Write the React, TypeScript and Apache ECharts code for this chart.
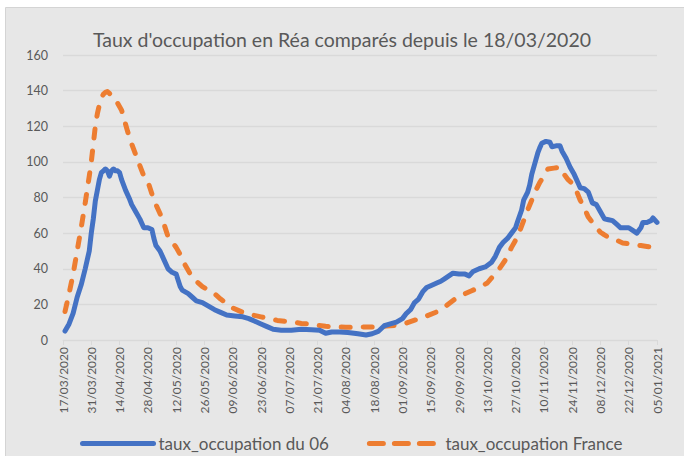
import React, { useEffect, useRef } from "react";
import * as echarts from "echarts";

// x positions are days elapsed since 17/03/2020
const START_DATE = Date.UTC(2020, 2, 17);
const X_MAX_DAYS = 294;
const TICK_DAYS = 14;
const Y_MAX = 160;
const Y_STEP = 20;

const titleText = "Taux d'occupation en Réa comparés depuis le 18/03/2020";
const seriesNames = ["taux_occupation du 06", "taux_occupation France"];

const days06 = [
  1, 3, 5, 7, 9, 11, 13, 14, 15, 16, 17, 18, 19, 20, 21, 22, 23, 24, 25, 26, 27, 28, 29, 31, 33, 34, 36, 38, 40, 42,
  44, 45, 46, 48, 50, 52, 54, 56, 58, 59, 62, 64, 66, 69, 72, 75, 78, 81, 85, 89, 92, 95, 98, 101, 104, 108, 113, 118,
  123, 127, 130, 133, 137, 141, 146, 150, 153, 156, 159, 162, 165, 168, 170, 172, 174, 176, 178, 180, 182, 185, 187,
  189, 191, 193, 196, 199, 201, 203, 206, 209, 212, 214, 216, 218, 220, 222, 224, 225, 227, 228, 230, 231, 232, 234,
  235, 236, 237, 239, 241, 242, 244, 246, 247, 249, 251, 253, 255, 256, 258, 260, 262, 264, 266, 268, 270, 272, 274,
  276, 278, 280, 282, 284, 286, 287, 289, 291, 292, 294,
];
const values06 = [
  5, 9, 15, 24, 31, 40, 50, 60, 68, 78, 84, 90, 94, 95, 96, 95, 92, 95, 96, 95, 95, 94, 90, 84, 79, 76, 72, 68, 63, 63,
  62, 57, 53, 50, 45, 40, 38, 37, 30, 28, 26, 24, 22, 21, 19, 17, 15.5, 14, 13.5, 13, 12, 10.5, 9, 7.5, 6, 5.5, 5.5, 6,
  5.7, 5.5, 3.8, 4.5, 4.5, 4.2, 3.5, 2.8, 3.5, 4.8, 8, 9, 10, 12, 15, 17, 21, 23, 27, 29.5, 30.5, 32, 33,
  34.5, 36, 37.5, 37, 37, 36, 38.5, 40, 41, 43.5, 47, 52, 55, 57, 60, 63, 66.5, 73, 78.5, 83, 87, 93, 101,
  105, 108, 110.5, 111.5, 111, 108.5, 109, 109, 106, 102, 97, 93, 88, 85.5, 85, 83, 77, 76, 72, 68, 67.5, 67, 65,
  63, 63, 63, 61.5, 60, 63, 66, 66, 67, 68.5, 66,
];

const daysFrance = [
  1, 3, 5, 7, 9, 11, 13, 14, 15, 16, 17, 18, 19, 20, 21, 22, 23, 25, 27, 29, 30, 32, 34, 36, 38, 40, 42, 44, 46, 48,
  50, 52, 54, 56, 58, 60, 62, 64, 66, 69, 72, 75, 78, 81, 84, 87, 90, 94, 98, 102, 106, 110, 114, 118, 122, 126, 130,
  135, 140, 145, 150, 155, 160, 165, 170, 175, 180, 185, 190, 194, 198, 202, 206, 210, 213, 216, 219, 222, 224, 226,
  228, 230, 232, 234, 236, 238, 240, 243, 246, 248, 250, 252, 254, 256, 258, 260, 262, 264, 266, 268, 271, 274, 277,
  280, 283, 286, 289, 291, 293, 294,
];
const valuesFrance = [
  16, 26, 37, 50, 63, 77, 92, 100, 110, 120, 127, 132, 136, 138, 139, 139.5, 138.5, 135, 133, 129, 125, 117, 110, 104,
  98, 92, 89, 82, 76, 71, 65, 58, 55, 52, 48, 43, 39, 35, 33, 30, 28, 26, 23, 20.5, 18, 16.5, 15, 14, 13, 12, 11, 10.5,
  10, 9.3, 9, 8.2, 7.7, 7.3, 7.2, 7.2, 7.3, 7.3, 7.8, 8.3, 9.5, 11.5, 13.5, 15.8, 19.5, 23, 25.5, 27.5, 29.5, 32, 36,
  40, 45, 52, 56, 61, 67, 73, 78.5, 84, 88.5, 92, 96, 96.5, 97, 93, 90, 88, 84, 78.5, 74, 69, 66, 63, 60.5, 59, 57, 56,
  54.5, 54, 53.5, 53, 52.5, 52.2, 52.5, 53,
];

const pad = (n: number) => (n < 10 ? "0" + n : "" + n);
const dayToLabel = (d: number) => {
  const dt = new Date(START_DATE + d * 86400000);
  return pad(dt.getUTCDate()) + "/" + pad(dt.getUTCMonth() + 1) + "/" + dt.getUTCFullYear();
};

const FONT = "Lato";
const TEXT = "#595959";
const GRID = "#d9d9d9";

export default function App() {
  const ref = useRef<HTMLDivElement>(null);
  useEffect(() => {
    if (!ref.current) return;
    const chart = echarts.init(ref.current, undefined, { renderer: "svg" });
    chart.setOption({
      animation: false,
      backgroundColor: "#ffffff",
      textStyle: { fontFamily: FONT },
      graphic: [
        {
          type: "rect",
          z: -10,
          silent: true,
          shape: { x: 5.5, y: 7.5, width: 690, height: 460 },
          style: { fill: "#e7e7e7", stroke: "#d4d4d4", lineWidth: 1 },
        },
      ],
      title: {
        text: titleText,
        left: "center",
        top: 29,
        padding: [0, 0, 0, 8],
        textStyle: { fontFamily: FONT, fontSize: 19.5, fontWeight: "normal", color: TEXT },
      },
      legend: {
        left: 75,
        top: 430,
        itemWidth: 71,
        itemHeight: 16,
        itemGap: 38,
        itemStyle: { opacity: 0, borderWidth: 0 },
        lineStyle: { width: 5, cap: "round" },
        textStyle: { fontFamily: FONT, fontSize: 17, color: TEXT },
        data: [
          { name: seriesNames[0] },
          { name: seriesNames[1], lineStyle: { type: [14, 11], width: 5, cap: "round" } },
        ],
      },
      grid: { left: 63, right: 27, top: 55, bottom: 116, containLabel: false },
      xAxis: {
        type: "value",
        min: 0,
        max: X_MAX_DAYS,
        interval: TICK_DAYS,
        axisLine: { show: true, lineStyle: { color: GRID, width: 1 } },
        axisTick: { show: true, length: 5, lineStyle: { color: GRID } },
        splitLine: { show: false },
        axisLabel: {
          rotate: 90,
          margin: 7,
          fontSize: 12,
          fontFamily: FONT,
          color: TEXT,
          formatter: (v: number) => dayToLabel(v),
        },
      },
      yAxis: {
        type: "value",
        min: 0,
        max: Y_MAX,
        interval: Y_STEP,
        axisLine: { show: false },
        axisTick: { show: false },
        splitLine: { lineStyle: { color: GRID, width: 1.3 } },
        axisLabel: { fontSize: 12.5, fontFamily: FONT, color: TEXT, margin: 15 },
      },
      series: [
        {
          name: seriesNames[0],
          type: "line",
          symbol: "none",
          data: days06.map((d, i) => [d, values06[i]]),
          lineStyle: { color: "#4472c4", width: 5, cap: "round", join: "round" },
          itemStyle: { color: "#4472c4" },
          z: 3,
        },
        {
          name: seriesNames[1],
          type: "line",
          symbol: "none",
          data: daysFrance.map((d, i) => [d, valuesFrance[i]]),
          lineStyle: {
            color: "#ed7d31",
            width: 5,
            type: [9, 13],
            cap: "round",
            join: "round",
          },
          itemStyle: { color: "#ed7d31" },
          z: 2,
        },
      ],
    });
    return () => chart.dispose();
  }, []);
  return (
    <div
      ref={ref}
      style={{ position: "fixed", left: 0, top: 0, width: 684, height: 456 }}
    />
  );
}
